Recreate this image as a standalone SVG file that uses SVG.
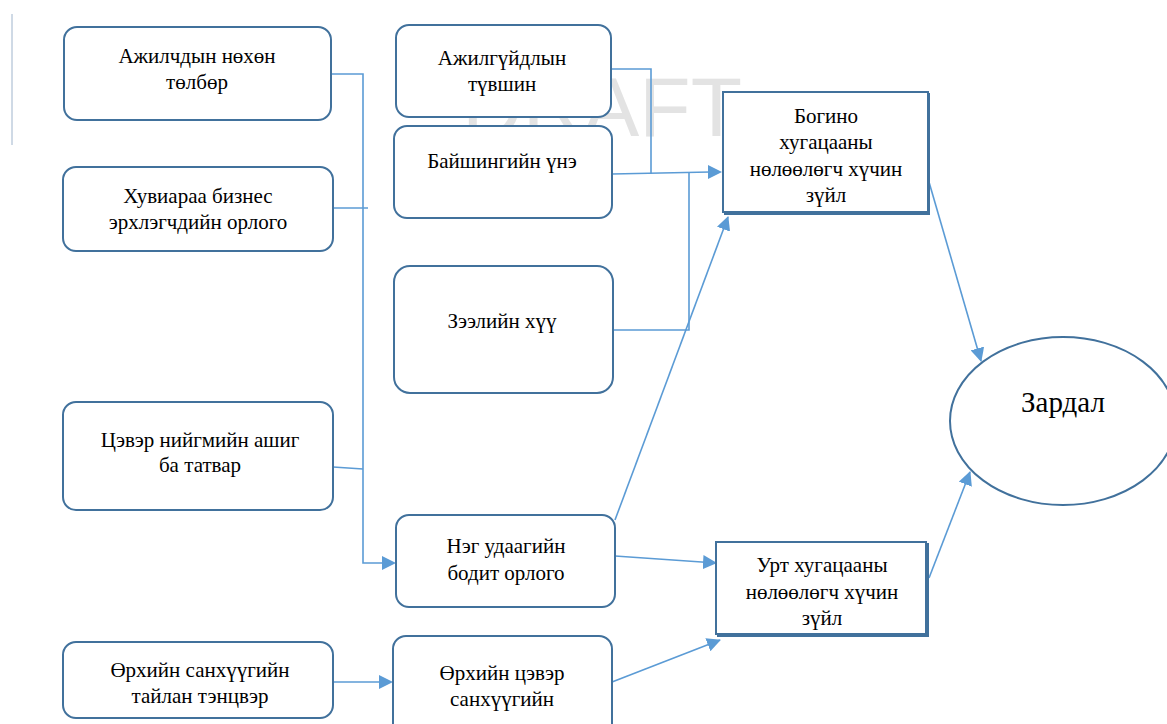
<svg xmlns="http://www.w3.org/2000/svg" width="1167" height="724" viewBox="0 0 1167 724">
<defs>
<style>
.box{fill:#fff;stroke:#41719c;stroke-width:2}
.sh{fill:none;stroke:#41719c;stroke-width:2}
.lbl{fill:#000;text-anchor:middle}
.c{fill:none;stroke:#5b9bd5;stroke-width:1.6}
</style>
<marker id="ahb" markerWidth="14" markerHeight="14" refX="13" refY="7" orient="auto" markerUnits="userSpaceOnUse" viewBox="0 0 14 14">
<path d="M0,0 L14,7 L0,14 z" fill="#5b9bd5"/>
</marker>
</defs>
<rect width="1167" height="724" fill="#fff"/>
<line x1="12" y1="14" x2="12" y2="145" stroke="#9fb4cc" stroke-width="1"/>
<text x="462" y="136" fill="#e3e3e3" style="font-family:'Liberation Sans',Arial,sans-serif;font-size:84px">DRAFT</text>

<g id="connectors">
<polyline class="c" points="331,74 363,74 363,563 382,563"/>
<line class="c" x1="333" y1="208" x2="368" y2="208"/>
<line class="c" x1="333" y1="467" x2="363" y2="469"/>
<path d="M382,556 L396,563 L382,570 z" fill="#5b9bd5"/>
<polyline class="c" points="611,69 651,69 651,174"/>
<line class="c" x1="612" y1="174" x2="710" y2="172"/>
<path d="M708,165 L722,172 L708,179 z" fill="#5b9bd5"/>
<polyline class="c" points="613,330 689,330 689,173"/>
<line class="c" x1="615" y1="520" x2="728" y2="217" marker-end="url(#ahb)"/>
<line class="c" x1="615" y1="556" x2="716" y2="563" marker-end="url(#ahb)"/>
<line class="c" x1="612" y1="682" x2="720" y2="640" marker-end="url(#ahb)"/>
<line class="c" x1="929" y1="182" x2="981" y2="361" marker-end="url(#ahb)"/>
<line class="c" x1="929" y1="578" x2="970" y2="472" marker-end="url(#ahb)"/>
<line class="c" x1="333" y1="682" x2="380" y2="682"/>
<path d="M379,675 L393,682 L379,689 z" fill="#5b9bd5"/>
</g>

<g id="n1"><rect class="box" x="64" y="27" width="267" height="93" rx="13"/>
<text class="lbl" style="font-family:'Liberation Serif',serif;font-size:21px" x="197" y="63">Ажилчдын нөхөн</text><text class="lbl" style="font-family:'Liberation Serif',serif;font-size:21px" x="197" y="89">төлбөр</text></g>
<g id="n2"><rect class="box" x="63" y="167" width="270" height="84" rx="13"/>
<text class="lbl" style="font-family:'Liberation Serif',serif;font-size:21px" x="198" y="203">Хувиараа бизнес</text><text class="lbl" style="font-family:'Liberation Serif',serif;font-size:21px" x="198" y="229">эрхлэгчдийн орлого</text></g>
<g id="n3"><rect class="box" x="63" y="402" width="270" height="108" rx="13"/>
<text class="lbl" style="font-family:'Liberation Serif',serif;font-size:21px" x="200" y="447">Цэвэр нийгмийн ашиг</text><text class="lbl" style="font-family:'Liberation Serif',serif;font-size:21px" x="200" y="472">ба татвар</text></g>
<g id="n4"><rect class="box" x="63" y="642" width="270" height="76" rx="13"/>
<text class="lbl" style="font-family:'Liberation Serif',serif;font-size:21px" x="200" y="677">Өрхийн санхүүгийн</text><text class="lbl" style="font-family:'Liberation Serif',serif;font-size:21px" x="200" y="703">тайлан тэнцвэр</text></g>

<g id="n5"><rect class="box" x="396" y="25" width="215" height="92" rx="13"/>
<text class="lbl" style="font-family:'Liberation Serif',serif;font-size:21px" x="502" y="65">Ажилгүйдлын</text><text class="lbl" style="font-family:'Liberation Serif',serif;font-size:21px" x="502" y="91">түвшин</text></g>
<g id="n6"><rect class="box" x="394" y="126" width="218" height="92" rx="13"/>
<text class="lbl" style="font-family:'Liberation Serif',serif;font-size:21px" x="502" y="168">Байшингийн үнэ</text></g>
<g id="n7"><rect class="box" x="394" y="266" width="219" height="127" rx="16"/>
<text class="lbl" style="font-family:'Liberation Serif',serif;font-size:21px" x="502" y="328">Зээлийн хүү</text></g>
<g id="n8"><rect class="box" x="396" y="515" width="219" height="92" rx="13"/>
<text class="lbl" style="font-family:'Liberation Serif',serif;font-size:21px" x="506" y="553">Нэг удаагийн</text><text class="lbl" style="font-family:'Liberation Serif',serif;font-size:21px" x="506" y="580">бодит орлого</text></g>
<g id="n9"><rect class="box" x="393" y="636" width="219" height="100" rx="13"/>
<text class="lbl" style="font-family:'Liberation Serif',serif;font-size:21px" x="502" y="680">Өрхийн цэвэр</text><text class="lbl" style="font-family:'Liberation Serif',serif;font-size:21px" x="502" y="706">санхүүгийн</text></g>

<g id="n10"><rect class="sh" x="725" y="94" width="204" height="120"/>
<rect class="box" x="723" y="92" width="205" height="120" stroke-width="1.5"/>
<text class="lbl" style="font-family:'Liberation Serif',serif;font-size:21px" x="826" y="123">Богино</text><text class="lbl" style="font-family:'Liberation Serif',serif;font-size:21px" x="826" y="149">хугацааны</text><text class="lbl" style="font-family:'Liberation Serif',serif;font-size:21px" x="826" y="176">нөлөөлөгч хүчин</text><text class="lbl" style="font-family:'Liberation Serif',serif;font-size:21px" x="826" y="202">зүйл</text></g>
<g id="n11"><rect class="sh" x="718" y="544" width="210" height="92"/>
<rect class="box" x="716" y="542" width="210" height="92" stroke-width="1.5"/>
<text class="lbl" style="font-family:'Liberation Serif',serif;font-size:21px" x="822" y="572">Урт хугацааны</text><text class="lbl" style="font-family:'Liberation Serif',serif;font-size:21px" x="822" y="599">нөлөөлөгч хүчин</text><text class="lbl" style="font-family:'Liberation Serif',serif;font-size:21px" x="822" y="625">зүйл</text></g>
<g id="n12"><ellipse class="box" cx="1063" cy="421" rx="113" ry="84"/>
<text class="lbl" style="font-family:'Liberation Serif',serif;font-size:29px" x="1063" y="412">Зардал</text></g>
</svg>
